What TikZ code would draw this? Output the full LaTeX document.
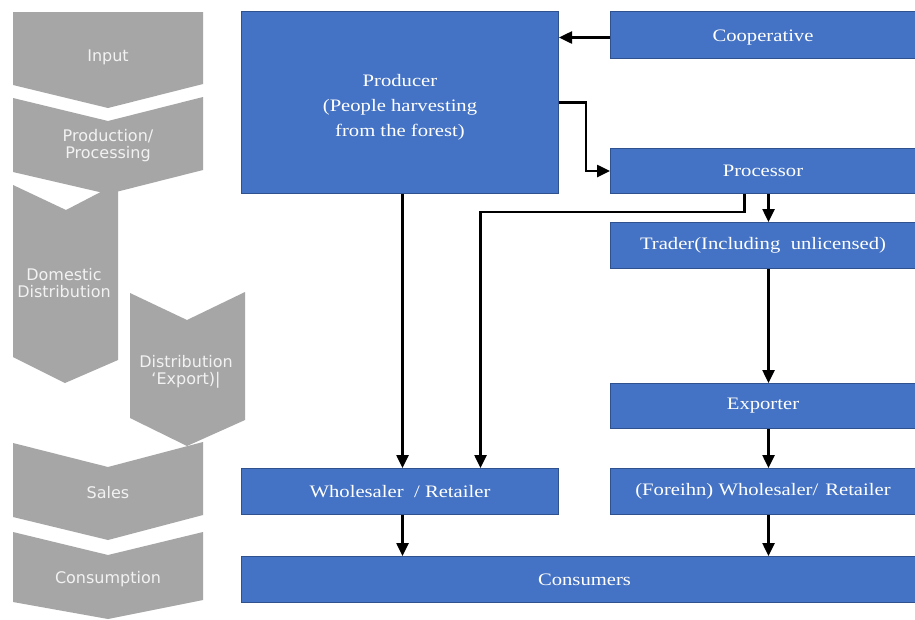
\documentclass[tikz,border=0pt]{standalone}
\usepackage{fontspec}
\setmainfont{Liberation Serif}[FakeStretch=1.18]
\newfontfamily\grayfont{DejaVu Sans}
\usetikzlibrary{arrows.meta}
\definecolor{boxblue}{HTML}{4472C4}
\definecolor{boxedge}{HTML}{2F528F}
\definecolor{chevgray}{HTML}{A6A6A6}
\definecolor{chevtext}{HTML}{F2F2F2}
\begin{document}
\begin{tikzpicture}[x=1pt,y=-1pt,
  bluebox/.style={draw=boxedge,line width=1pt,fill=boxblue,text=white,
    anchor=north west,inner sep=0pt,align=center,
    font=\fontsize{17.5}{25}\selectfont},
  chev/.style={fill=chevgray,draw=none},
  chevlabel/.style={text=chevtext,align=center,inner sep=0pt,
    font=\grayfont\fontsize{16}{17}\selectfont},
  arr/.style={draw=black,line width=2.5pt,-{Triangle[length=13pt,width=12pt]}}]
\useasboundingbox (0,0) rectangle (915,619);
\fill[white] (0,0) rectangle (915,619);
% ---- gray stages ----
\path[chev] (13,12) -- (203,12) -- (203,84) -- (108,108) -- (13,85) -- cycle;
\path[chev] (13,185) -- (66,210) -- (118,183) -- (118,360) -- (65,383) -- (13,357) -- cycle;
\path[chev] (13,98) -- (108,121) -- (203,97) -- (203,170) -- (108,194) -- (13,172) -- cycle;
\path[chev] (130,293) -- (187,320) -- (245,292) -- (245,420) -- (187,446) -- (130,418) -- cycle;
\path[chev] (13,443) -- (108,467) -- (203,442) -- (203,515) -- (108,540) -- (13,517) -- cycle;
\path[chev] (13,532) -- (108,555) -- (203,532) -- (203,600) -- (108,619) -- (13,602) -- cycle;
\node[chevlabel] (tInput) at (108,57) {Input};
\node[chevlabel] (tProd) at (108,146) {Production/\\Processing};
\node[chevlabel] (tDom) at (64,283) {Domestic\\Distribution};
\node[chevlabel] (tExp) at (186,372) {Distribution\\‘Export)|};
\node[chevlabel] (tSales) at (108,493) {Sales};
\node[chevlabel] (tCons) at (108,579) {Consumption};
% ---- blue boxes ----
\node[bluebox,minimum width=317pt,minimum height=182pt] (prod) at (241,11)
  {\rule{0pt}{22pt}Producer\\(People harvesting\\ from the forest)};
\node[bluebox,minimum width=305pt,minimum height=47pt] (coop) at (610,11)
  {\raisebox{-3pt}[\height][\depth]{Cooperative}};
\node[bluebox,minimum width=305pt,minimum height=45pt] (proc) at (610,148) {Processor};
\node[bluebox,minimum width=305pt,minimum height=46pt] (trad) at (610,222)
  {Trader(Including\hspace{0.6em}unlicensed)};
\node[bluebox,minimum width=305pt,minimum height=45pt] (expo) at (610,383) {Exporter};
\node[bluebox,minimum width=305pt,minimum height=46pt] (forw) at (610,468)
  {(Foreihn) Wholesaler/\hspace{0.4em}Retailer};
\node[bluebox,minimum width=317pt,minimum height=46pt] (whole) at (241,468)
  {Wholesaler\hspace{0.3em} / Retailer};
\node[bluebox,minimum width=674pt,minimum height=46pt] (cons) at (241,556)
  {\hspace{12pt}Consumers};
% ---- connectors ----
\draw[arr] ([yshift=-2.5pt]coop.west) -- ([yshift=-2.5pt]coop.west -| prod.east);
\draw[arr] (prod.east) -- ++(27,0) |- (proc.west);
\draw[arr] ([xshift=2.5pt]prod.south) -- ([xshift=2.5pt]prod.south |- whole.north);
\draw[arr] ([xshift=-18.5pt]proc.south) -- ++(0,18) -| ([xshift=80.5pt]whole.north);
\draw[arr] ([xshift=5.5pt]proc.south) -- ([xshift=5.5pt]trad.north);
\draw[arr] ([xshift=5.5pt]trad.south) -- ([xshift=5.5pt]expo.north);
\draw[arr] ([xshift=5.5pt]expo.south) -- ([xshift=5.5pt]forw.north);
\draw[arr] ([xshift=5.5pt]forw.south) -- ([xshift=5.5pt]forw.south |- cons.north);
\draw[arr] ([xshift=2.5pt]whole.south) -- ([xshift=2.5pt]whole.south |- cons.north);
\end{tikzpicture}
\end{document}
